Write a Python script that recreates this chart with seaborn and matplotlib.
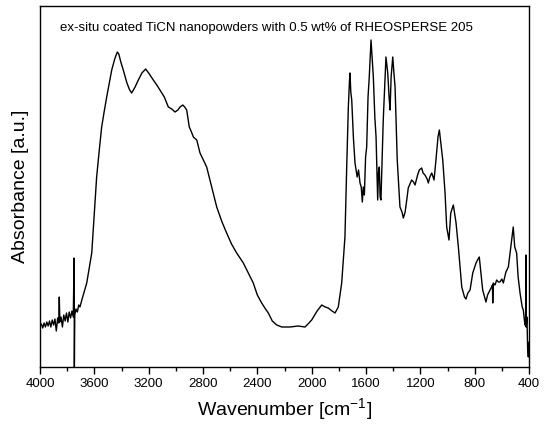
import matplotlib
matplotlib.use("Agg")
import matplotlib.pyplot as plt
import seaborn as sns
import pandas as pd
from matplotlib.ticker import MultipleLocator

wavenumber = [
    4000, 3990, 3980, 3970, 3960, 3950, 3940, 3930, 3920, 3910, 3900, 3890, 3880, 3870, 3862, 3858, 3854,
    3845, 3835, 3825, 3815, 3805, 3795, 3785, 3775, 3765, 3755, 3749, 3747, 3744, 3735, 3725, 3715, 3706,
    3690, 3675, 3656, 3640, 3619, 3600, 3583, 3565, 3546, 3528, 3509, 3490, 3472, 3450, 3431, 3420, 3405,
    3387, 3360, 3340, 3325, 3300, 3276, 3250, 3222, 3195, 3166, 3140, 3117, 3085, 3055, 3030, 3006, 2985,
    2969, 2949, 2935, 2920, 2901, 2885, 2871, 2846, 2822, 2773, 2740, 2699, 2660, 2626, 2590, 2552, 2503,
    2470, 2430, 2400, 2368, 2340, 2319, 2290, 2257, 2220, 2160, 2100, 2049, 2020, 2000, 1960, 1926, 1900,
    1878, 1850, 1828, 1804, 1779, 1762, 1755, 1742, 1730, 1722, 1718, 1712, 1705, 1693, 1681, 1665, 1655,
    1644, 1635, 1627, 1620, 1612, 1603, 1595, 1585, 1576, 1563, 1555, 1546, 1535, 1526, 1514, 1508, 1502,
    1496, 1490, 1473, 1453, 1440, 1430, 1423, 1415, 1403, 1395, 1386, 1370, 1350, 1335, 1325, 1312, 1300,
    1289, 1264, 1250, 1239, 1220, 1208, 1190, 1180, 1166, 1150, 1141, 1130, 1116, 1099, 1085, 1070, 1060,
    1050, 1035, 1018, 1006, 989, 976, 957, 937, 920, 895, 875, 864, 850, 834, 814, 800, 790, 775, 766,
    755, 741, 717, 705, 687, 675, 669, 667, 663, 650, 638, 625, 614, 600, 589, 570, 552, 530, 516, 505,
    491, 480, 466, 450, 442, 430, 425, 423, 421, 415, 410, 405, 400,
]

absorbance = [
    0.41, 0.43, 0.39, 0.44, 0.40, 0.45, 0.41, 0.46, 0.40, 0.47, 0.42, 0.48, 0.36, 0.49, 0.44, 0.70, 0.45,
    0.50, 0.40, 0.52, 0.46, 0.54, 0.45, 0.55, 0.49, 0.56, 0.50, 1.09, 0.00, 0.52, 0.58, 0.55, 0.62, 0.60,
    0.68, 0.75, 0.84, 0.97, 1.14, 1.55, 1.90, 2.15, 2.40, 2.55, 2.70, 2.84, 2.97, 3.08, 3.15, 3.13, 3.05,
    2.97, 2.84, 2.77, 2.74, 2.80, 2.87, 2.94, 2.98, 2.93, 2.87, 2.82, 2.77, 2.70, 2.60, 2.58, 2.55, 2.57,
    2.60, 2.62, 2.60, 2.57, 2.40, 2.35, 2.30, 2.27, 2.14, 2.00, 1.82, 1.60, 1.45, 1.34, 1.23, 1.14, 1.04,
    0.95, 0.84, 0.72, 0.64, 0.58, 0.54, 0.46, 0.42, 0.40, 0.40, 0.41, 0.40, 0.44, 0.47, 0.56, 0.62, 0.60,
    0.59, 0.56, 0.54, 0.60, 0.84, 1.17, 1.30, 2.00, 2.60, 2.85, 2.94, 2.75, 2.67, 2.30, 2.04, 1.90, 1.97,
    1.84, 1.80, 1.65, 1.80, 1.72, 2.10, 2.20, 2.70, 2.90, 3.27, 3.10, 2.90, 2.50, 2.30, 1.67, 1.95, 2.00,
    1.70, 1.67, 2.47, 3.10, 2.94, 2.70, 2.57, 2.90, 3.10, 2.95, 2.80, 2.07, 1.60, 1.55, 1.49, 1.55, 1.67,
    1.79, 1.87, 1.85, 1.82, 1.92, 1.97, 1.99, 1.94, 1.92, 1.88, 1.84, 1.90, 1.94, 1.87, 2.07, 2.30, 2.37,
    2.25, 2.07, 1.74, 1.40, 1.27, 1.54, 1.62, 1.44, 1.20, 0.80, 0.70, 0.68, 0.74, 0.77, 0.94, 1.00, 1.04, 1.08, 1.10,
    0.95, 0.77, 0.65, 0.72, 0.77, 0.80, 0.82, 0.64, 0.84, 0.82, 0.87, 0.85, 0.85, 0.88, 0.84, 0.95, 1.00, 1.25, 1.40, 1.20,
    1.14, 0.90, 0.74, 0.60, 0.57, 0.42, 0.45, 1.12, 0.40, 0.50, 0.18, 0.10, 0.25,
]

title_text = "ex-situ coated TiCN nanopowders with 0.5 wt% of RHEOSPERSE 205"
x_label = "Wavenumber [cm$^{-1}$]"
y_label = "Absorbance [a.u.]"

sns.set_style("ticks")
plt.rcParams["font.family"] = ["Liberation Sans", "DejaVu Sans"]
plt.rcParams["mathtext.fontset"] = "custom"
plt.rcParams["mathtext.rm"] = "Liberation Sans"
plt.rcParams["mathtext.it"] = "Liberation Sans"
plt.rcParams["text.color"] = "black"
plt.rcParams["axes.labelcolor"] = "black"
plt.rcParams["xtick.color"] = "black"

df = pd.DataFrame({"wn": wavenumber, "a": absorbance})

fig = plt.figure(figsize=(5.46, 4.30), dpi=100)
ax = fig.add_axes([40 / 546, 1 - 367 / 430, 489 / 546, 361 / 430])
sns.lineplot(data=df, x="wn", y="a", ax=ax, color="black", linewidth=1.0, sort=False,
             estimator=None)

ax.set_xlim(4000, 400)
ax.set_ylim(0, 3.61)
ax.xaxis.set_major_locator(MultipleLocator(400))
ax.xaxis.set_minor_locator(MultipleLocator(200))
ax.tick_params(axis="x", which="major", direction="out", length=5, width=1, labelsize=9.5,
               colors="black", pad=3)
ax.tick_params(axis="x", which="minor", direction="out", length=3, width=1, colors="black")
ax.set_yticks([])
for s in ax.spines.values():
    s.set_visible(True)
    s.set_linewidth(1.0)
    s.set_color("black")

ax.set_xlabel(x_label, fontsize=14, labelpad=4, color="black")
ax.set_ylabel(y_label, fontsize=14, labelpad=8, color="black")
ax.text(0.04, 0.94, title_text, transform=ax.transAxes, fontsize=9.5, ha="left", va="center",
        color="black")

fig.savefig("out.png", dpi=100)
